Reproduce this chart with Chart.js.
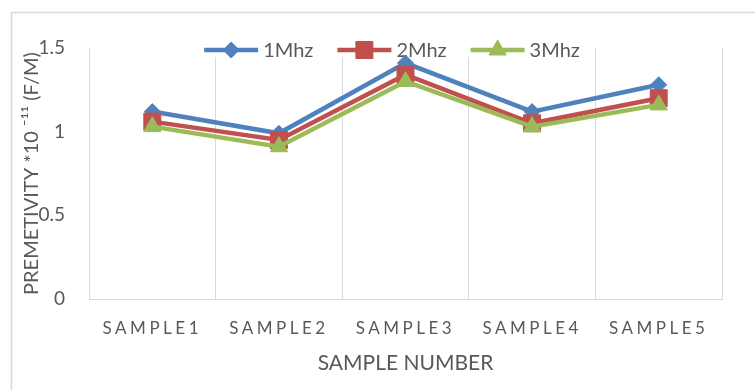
<!DOCTYPE html>
<html>
<head>
<meta charset="utf-8">
<script src="https://cdn.jsdelivr.net/npm/chart.js"></script>
<style>
  body { margin: 0; background: #fff; }
  #wrap { width: 755px; height: 390px; }
</style>
</head>
<body>
<div id="wrap"><canvas id="permChart"></canvas></div>
<script>
// samples and measured permittivity per frequency
const samples = ['SAMPLE1', 'SAMPLE2', 'SAMPLE3', 'SAMPLE4', 'SAMPLE5'];
const freqLabels = ['1Mhz', '2Mhz', '3Mhz'];
const perm1Mhz = [1.12, 0.99, 1.41, 1.12, 1.28];
const perm2Mhz = [1.06, 0.95, 1.34, 1.05, 1.20];
const perm3Mhz = [1.03, 0.91, 1.30, 1.03, 1.16];
const yTicks = [0, 0.5, 1, 1.5];

const textGrey = '#595959';
const gridGrey = '#d9d9d9';
const fontFamily = 'Lato, "Open Sans", sans-serif';

// same shapes as chart.js point styles, used for the legend
function drawMarker(ctx, style, r, x, y) {
    ctx.beginPath();
    if (style === 'rectRot') {
        ctx.moveTo(x - r, y);
        ctx.lineTo(x, y - r);
        ctx.lineTo(x + r, y);
        ctx.lineTo(x, y + r);
    } else if (style === 'rect') {
        const s = r * Math.SQRT1_2;
        ctx.rect(x - s, y - s, 2 * s, 2 * s);
    } else {
        ctx.moveTo(x, y - r);
        ctx.lineTo(x + 0.866 * r, y + 0.5 * r);
        ctx.lineTo(x - 0.866 * r, y + 0.5 * r);
    }
    ctx.closePath();
    ctx.fill();
    ctx.stroke();
}

// outer frame of the chart
const frameBox = {
    id: 'frameBox',
    beforeDraw(chart) {
        const ctx = chart.ctx;
        ctx.save();
        ctx.strokeStyle = gridGrey;
        ctx.lineWidth = 1.5;
        ctx.strokeRect(11.5, 12.5, 800, 420);
        ctx.restore();

        // wider letter spacing on the category labels
        const sc = chart.scales.x;
        if (sc && !sc._spaced) {
            const orig = sc.drawLabels;
            sc.drawLabels = function (area) {
                this.ctx.save();
                this.ctx.letterSpacing = '3.5px';
                orig.call(this, area);
                this.ctx.restore();
            };
            sc._spaced = true;
        }
    }
};

// legend drawn inside the plot, line + marker per series
const seriesLegend = {
    id: 'seriesLegend',
    beforeDatasetsDraw(chart) {
        const ctx = chart.ctx;
        const sets = chart.data.datasets;
        ctx.save();
        ctx.font = '20px ' + fontFamily;
        const lineLen = 54, gap = 5, itemGap = 24, y = 50;
        const widths = sets.map(ds => lineLen + gap + ctx.measureText(ds.label).width);
        const total = widths.reduce((a, b) => a + b, 0) + itemGap * (sets.length - 1);
        let x = 392 - total / 2;

        ctx.fillStyle = '#fff';
        ctx.fillRect(x - 4, y - 12, total + 8, 19);

        sets.forEach((ds, i) => {
            ctx.strokeStyle = ds.borderColor;
            ctx.fillStyle = ds.borderColor;
            ctx.lineWidth = ds.borderWidth;
            ctx.beginPath();
            ctx.moveTo(x, y);
            ctx.lineTo(x + lineLen, y);
            ctx.stroke();
            ctx.lineWidth = 1;
            drawMarker(ctx, ds.pointStyle, ds.legendRadius, x + lineLen / 2, y);

            ctx.fillStyle = textGrey;
            ctx.textBaseline = 'middle';
            ctx.textAlign = 'left';
            ctx.fillText(ds.label, x + lineLen + gap, y + 1);
            x += widths[i] + itemGap;
        });
        ctx.restore();
    }
};

function series(label, values, color, style, radius, legendRadius, order) {
    return {
        label: label,
        data: values,
        borderColor: color,
        backgroundColor: color,
        borderWidth: 4.5,
        pointStyle: style,
        pointRadius: radius,
        pointHoverRadius: radius,
        pointBorderWidth: 1,
        pointBackgroundColor: color,
        legendRadius: legendRadius,
        tension: 0,
        order: order
    };
}

const ctx = document.getElementById('permChart').getContext('2d');

const permChart = new Chart(ctx, {
    type: 'line',
    data: {
        labels: samples,
        datasets: [
            series(freqLabels[0], perm1Mhz, '#4f81bd', 'rectRot', 8, 8, 3),
            series(freqLabels[1], perm2Mhz, '#c0504d', 'rect', 12, 12, 2),
            series(freqLabels[2], perm3Mhz, '#9bbb59', 'triangle', 10, 10, 1)
        ]
    },
    options: {
        responsive: true,
        maintainAspectRatio: false,
        animation: false,
        layout: { padding: { top: 48, right: 33, left: 0, bottom: 0 } },
        plugins: {
            legend: { display: false },
            tooltip: { enabled: false }
        },
        scales: {
            x: {
                offset: true,
                grid: { offset: true, color: gridGrey, lineWidth: 1, drawTicks: false },
                border: { color: gridGrey, width: 1 },
                ticks: {
                    color: textGrey,
                    font: { family: fontFamily, size: 17 },
                    padding: 19,
                    maxRotation: 0,
                    autoSkip: false
                },
                title: {
                    display: true,
                    text: 'SAMPLE NUMBER',
                    color: textGrey,
                    font: { family: fontFamily, size: 21 },
                    padding: { top: 0, bottom: 14 }
                },
                afterFit(scale) { scale.height = 91; }
            },
            y: {
                min: 0,
                max: 1.5,
                grid: { display: false, drawTicks: false },
                border: { display: false },
                ticks: {
                    color: textGrey,
                    font: { family: fontFamily, size: 19 },
                    padding: 24,
                    callback: v => String(v)
                },
                afterBuildTicks(scale) {
                    scale.ticks = yTicks.map(v => ({ value: v }));
                },
                title: {
                    display: true,
                    text: 'PREMETIVITY *10 ⁻¹¹ (F/M)',
                    color: textGrey,
                    font: { family: fontFamily, size: 20 },
                    padding: { top: 20, bottom: 0 }
                },
                afterFit(scale) { scale.width = 89; }
            }
        }
    },
    plugins: [frameBox, seriesLegend]
});
</script>
</body>
</html>
